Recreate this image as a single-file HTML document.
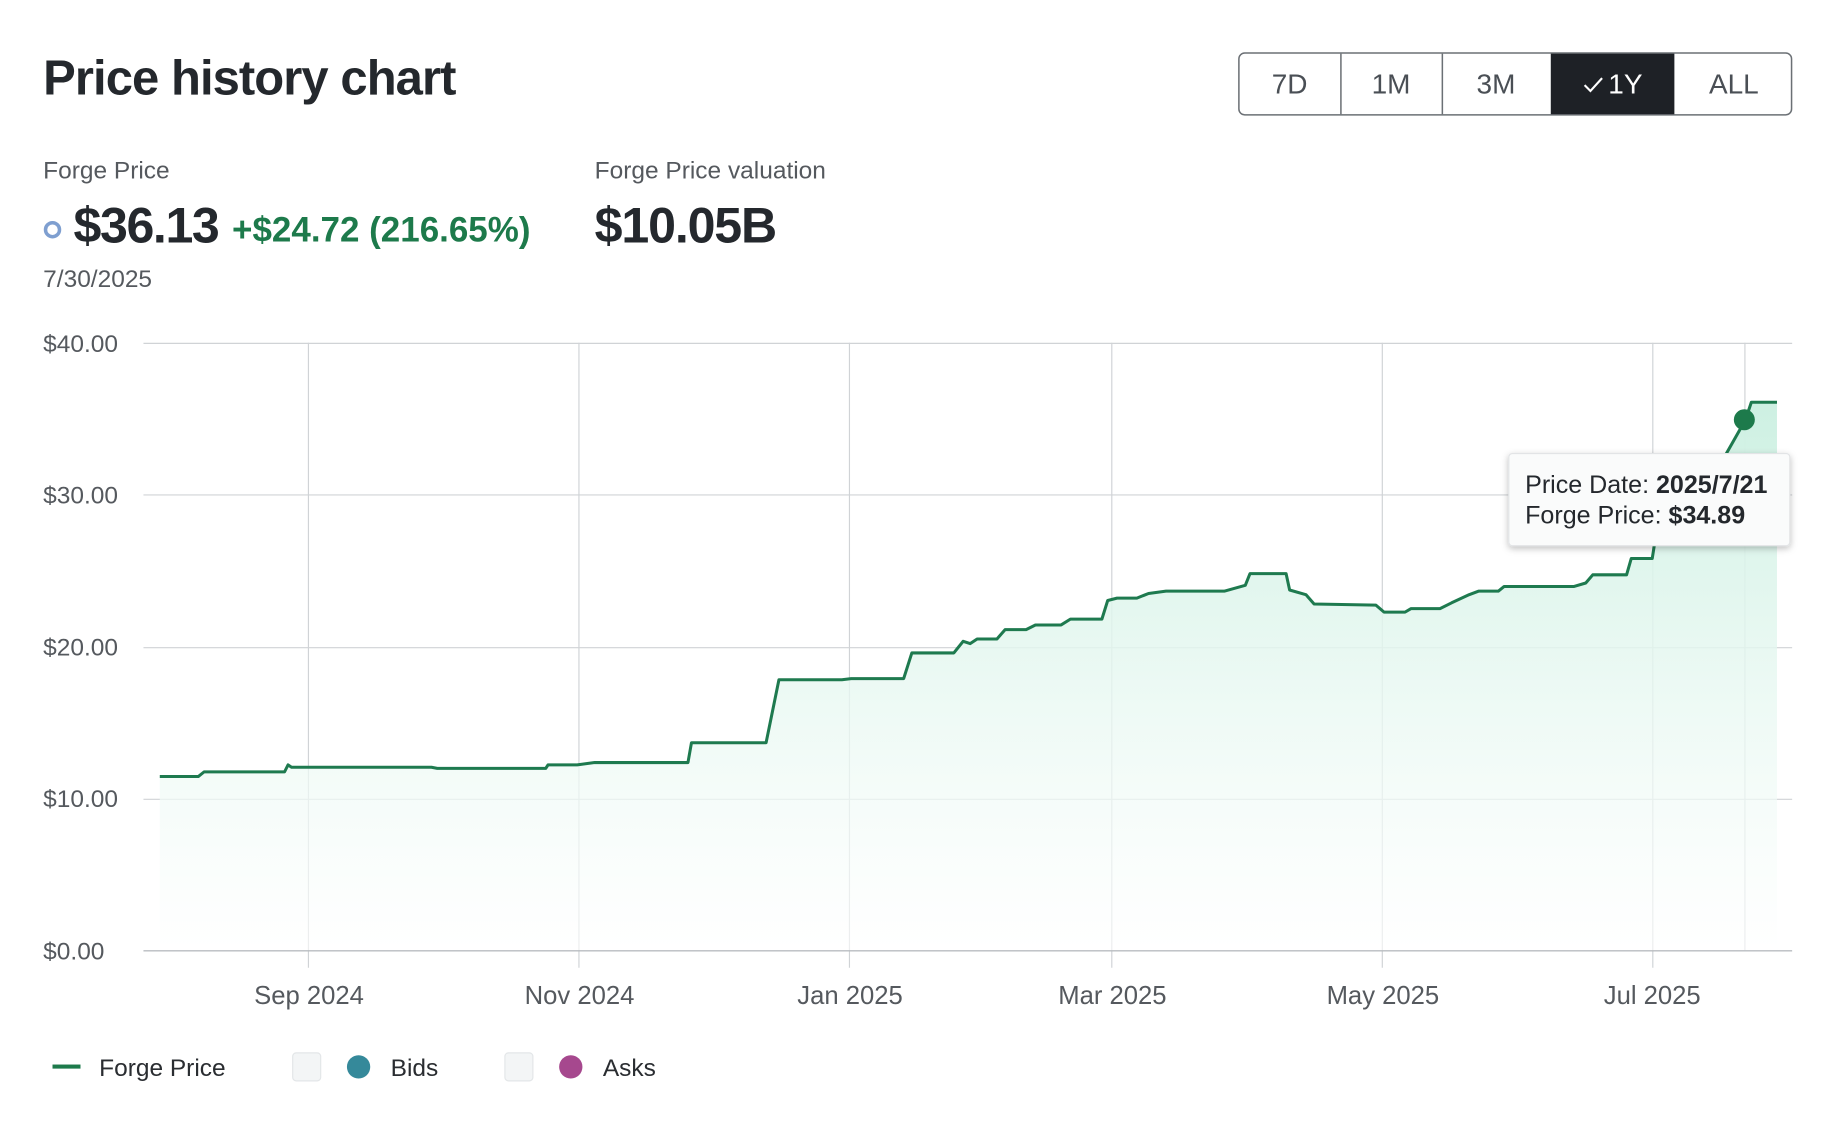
<!DOCTYPE html>
<html><head><meta charset="utf-8"><style>
html,body{margin:0;padding:0;background:#fff;}
svg{display:block;font-family:"Liberation Sans",sans-serif;}
</style></head><body>
<svg width="1826" height="1124" viewBox="0 0 1566 964" xmlns="http://www.w3.org/2000/svg">
<defs>
<linearGradient id="g" x1="0" y1="0" x2="0" y2="1">
<stop offset="0" stop-color="#cdf0e2"/>
<stop offset="1" stop-color="#ffffff" stop-opacity="0.6"/>
</linearGradient>
<filter id="sh" x="-20%" y="-20%" width="140%" height="150%"><feDropShadow dx="0" dy="2" stdDeviation="3" flood-color="#000" flood-opacity="0.25"/></filter>
</defs>
<text x="37" y="81" font-size="42" font-weight="600" fill="#24282d" letter-spacing="-0.8">Price history chart</text>
<rect x="1062.5" y="45.5" width="474" height="53" rx="5" fill="#fff" stroke="#6b7075" stroke-width="1.3"/>
<rect x="1330" y="46" width="106" height="52" fill="#1e2126"/>
<g stroke="#6b7075" stroke-width="1.3"><line x1="1150" y1="46" x2="1150" y2="98"/><line x1="1237" y1="46" x2="1237" y2="98"/></g>
<g font-size="24" fill="#4a4f55" text-anchor="middle">
<text x="1106" y="80">7D</text><text x="1193" y="80">1M</text><text x="1283" y="80">3M</text>
<text x="1394" y="80" fill="#fff">1Y</text><text x="1487" y="80">ALL</text></g>
<path d="M1359 73 l5 5 l10 -11" stroke="#fff" stroke-width="1.8" fill="none"/>
<g font-size="21" fill="#55595e"><text x="37" y="153">Forge Price</text><text x="510" y="153">Forge Price valuation</text><text x="37" y="246">7/30/2025</text></g>
<circle cx="45" cy="197" r="6" fill="none" stroke="#7f9fd0" stroke-width="3"/>
<text x="63" y="208" font-size="43" font-weight="600" fill="#24282d" letter-spacing="-1.2">$36.13</text>
<text x="199" y="207" font-size="30" font-weight="700" fill="#1d7a4b" letter-spacing="0">+$24.72 (216.65%)</text>
<text x="510" y="208" font-size="43" font-weight="600" fill="#24282d" letter-spacing="-1">$10.05B</text>
<g stroke="#d0d3d6" stroke-width="1">
<line x1="123" y1="294.5" x2="1537" y2="294.5"/><line x1="123" y1="424.5" x2="1537" y2="424.5"/>
<line x1="123" y1="555.5" x2="1537" y2="555.5"/><line x1="123" y1="685.5" x2="1537" y2="685.5"/>
<line x1="264.5" y1="294" x2="264.5" y2="830"/><line x1="496.5" y1="294" x2="496.5" y2="830"/>
<line x1="728.5" y1="294" x2="728.5" y2="830"/><line x1="953.5" y1="294" x2="953.5" y2="830"/>
<line x1="1185.5" y1="294" x2="1185.5" y2="830"/><line x1="1417.5" y1="294" x2="1417.5" y2="830"/>
<line x1="1496.5" y1="294" x2="1496.5" y2="815"/>
</g>
<path d="M137 815 L137 666 L170 666 L175 662 L244 662 L247 656 L250 658 L370 658 L375 659 L468 659 L470 656 L495 656 L510 654 L590 654 L593 637 L657 637 L668 583 L722 583 L730 582 L775 582 L782 560 L818 560 L826 550 L832 552 L838 548 L855 548 L862 540 L880 540 L888 536 L910 536 L918 531 L945 531 L950 515 L958 513 L975 513 L985 509 L1000 507 L1050 507 L1068 502 L1072 492 L1103 492 L1106 506 L1120 510 L1127 518 L1180 519 L1187 525 L1205 525 L1210 522 L1235 522 L1245 517 L1260 510 L1268 507 L1285 507 L1290 503 L1350 503 L1360 500 L1366 493 L1395 493 L1399 479 L1417 479 L1420 460 L1480 390 L1497 360 L1502 345 L1524 345 L1524 815 Z" fill="url(#g)"/>
<path d="M137 666 L170 666 L175 662 L244 662 L247 656 L250 658 L370 658 L375 659 L468 659 L470 656 L495 656 L510 654 L590 654 L593 637 L657 637 L668 583 L722 583 L730 582 L775 582 L782 560 L818 560 L826 550 L832 552 L838 548 L855 548 L862 540 L880 540 L888 536 L910 536 L918 531 L945 531 L950 515 L958 513 L975 513 L985 509 L1000 507 L1050 507 L1068 502 L1072 492 L1103 492 L1106 506 L1120 510 L1127 518 L1180 519 L1187 525 L1205 525 L1210 522 L1235 522 L1245 517 L1260 510 L1268 507 L1285 507 L1290 503 L1350 503 L1360 500 L1366 493 L1395 493 L1399 479 L1417 479 L1420 460 L1480 390 L1497 360 L1502 345 L1524 345" fill="none" stroke="#1e7a4f" stroke-width="2.6" stroke-linejoin="round"/>
<line x1="123" y1="815.5" x2="1537" y2="815.5" stroke="#b8bcc0" stroke-width="1.2"/>
<circle cx="1496" cy="360" r="9" fill="#1d7a4b"/>
<g font-size="21" fill="#55595e">
<text x="37" y="302">$40.00</text><text x="37" y="432">$30.00</text><text x="37" y="562">$20.00</text><text x="37" y="692">$10.00</text><text x="37" y="823">$0.00</text>
</g>
<g font-size="22" fill="#55595e" text-anchor="middle">
<text x="265" y="861">Sep 2024</text><text x="497" y="861">Nov 2024</text><text x="729" y="861">Jan 2025</text><text x="954" y="861">Mar 2025</text><text x="1186" y="861">May 2025</text><text x="1417" y="861">Jul 2025</text>
</g>
<rect x="1294" y="389" width="241" height="79" rx="3" fill="#fafbfb" stroke="#e2e4e6" filter="url(#sh)"/>
<text x="1308" y="423" font-size="21.5" fill="#24282d">Price Date: <tspan font-weight="700">2025/7/21</tspan></text>
<text x="1308" y="449" font-size="21.5" fill="#24282d">Forge Price: <tspan font-weight="700">$34.89</tspan></text>
<rect x="45" y="913" width="24" height="3.5" fill="#1d7a4b"/>
<g font-size="21" fill="#2a2d31"><text x="85" y="923">Forge Price</text><text x="335" y="923">Bids</text><text x="517" y="923">Asks</text></g>
<rect x="251" y="903" width="24" height="24" rx="3" fill="#f3f5f6" stroke="#e3e6e8"/>
<rect x="433" y="903" width="24" height="24" rx="3" fill="#f3f5f6" stroke="#e3e6e8"/>
<circle cx="307.5" cy="915" r="10" fill="#35899a"/>
<circle cx="489.5" cy="915" r="10" fill="#a6488e"/>
</svg>
</body></html>
